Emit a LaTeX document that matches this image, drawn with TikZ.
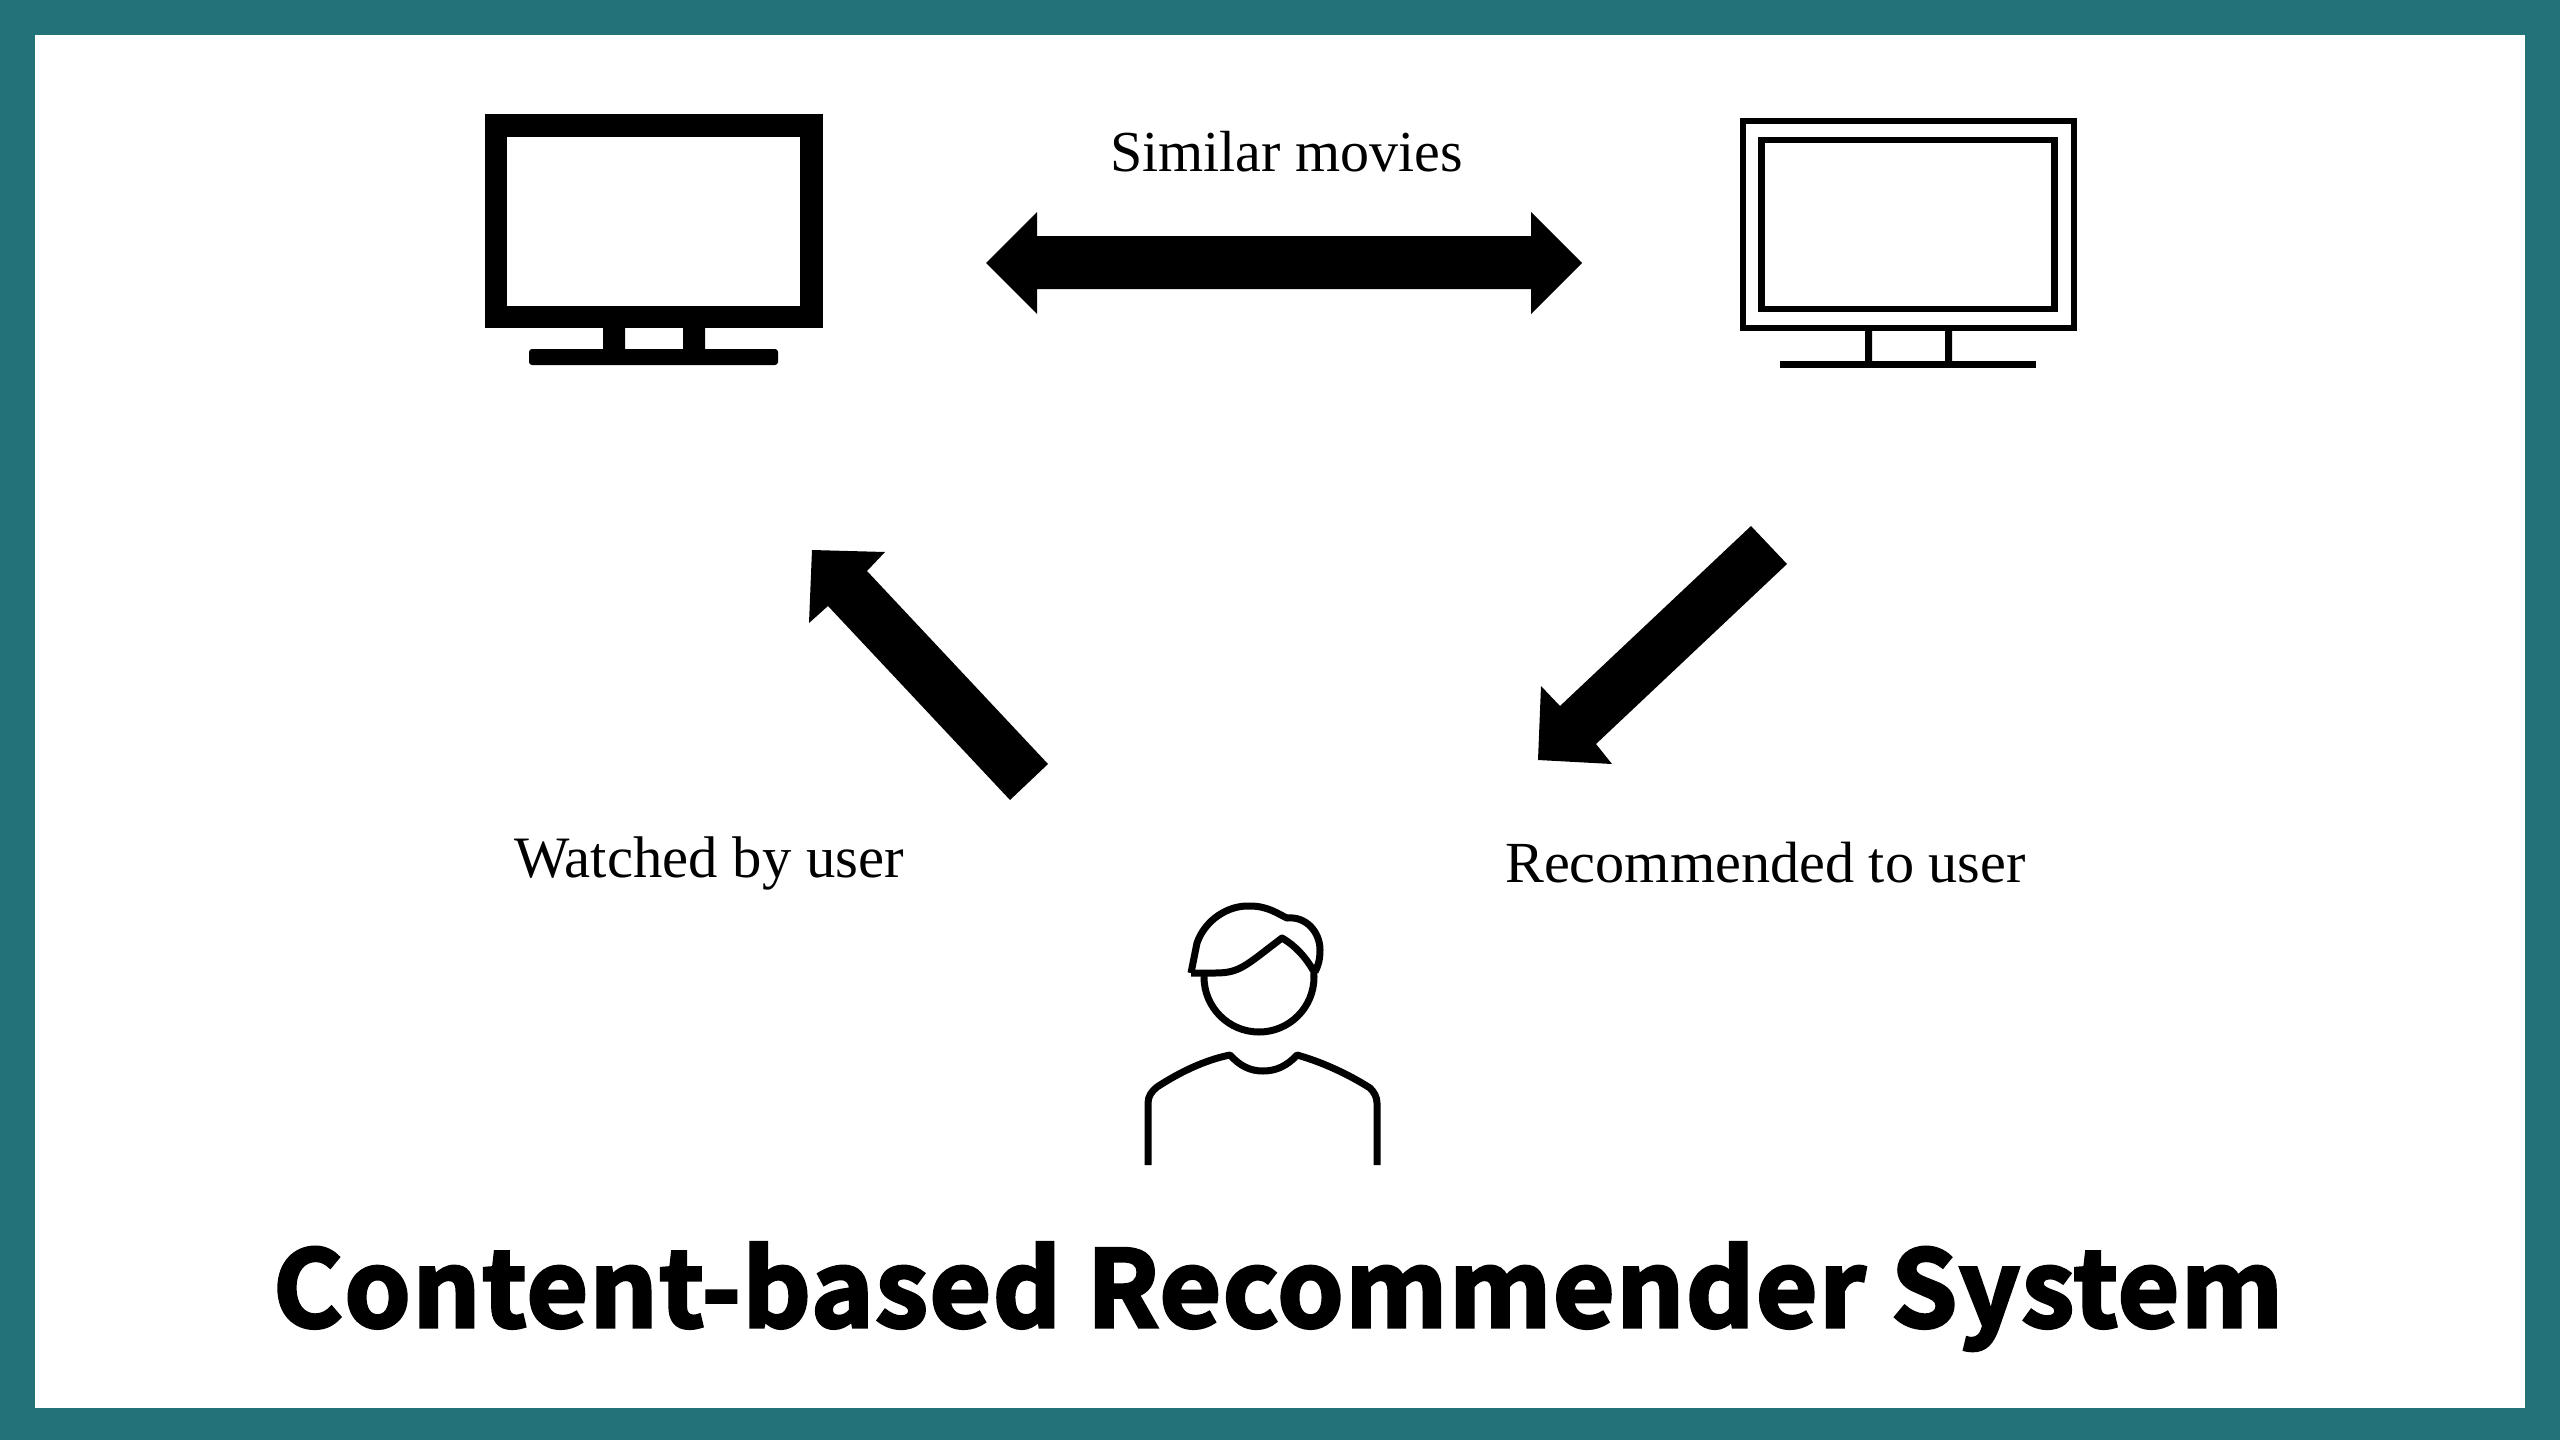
\documentclass[tikz,border=0pt]{standalone}
\usepackage{fontspec}
\setmainfont{Liberation Serif}
\newfontfamily\titlefont[FakeBold=3,LetterSpace=1.6]{Noto Sans CJK JP Bold}
\definecolor{frameteal}{HTML}{23727A}
\tikzset{
  lbl/.style={anchor=base west,inner sep=0pt,text=black},
  tvthick/.style={draw=black,line width=22.5pt,inner sep=0pt,fill=white},
  tvthin/.style={draw=black,line width=6.5pt,inner sep=0pt,fill=white},
  blockarrow/.style={fill=black,draw=none},
  linework/.style={draw=black,line width=7pt,line cap=butt,line join=round}
}
\begin{document}
\begin{tikzpicture}[x=1pt,y=-1pt]
\useasboundingbox (0,0) rectangle (2560,1440);
\fill[frameteal] (0,0) rectangle (2560,1440);
\fill[white] (35,35) rectangle (2525,1408);
% left monitor
\fill[black,rounded corners=3pt] (529,349) rectangle (778,365);
\fill[black] (603,328) rectangle (625,350) (683,328) rectangle (705,350);
\node[tvthick,minimum width=315.5pt,minimum height=191.5pt] (tvA) at (653.8,221) {};
% right monitor
\node[tvthin,minimum width=331pt,minimum height=207pt] (tvBouter) at (1908.5,224.5) {};
\node[tvthin,minimum width=293pt,minimum height=169pt] (tvBinner) at (1908,224.5) {};
\fill[black] (1780,361) rectangle (2036,368);
\fill[black] (1865,331) rectangle (1872,362) (1945,331) rectangle (1952,362);
% arrows
\coordinate (simL) at (986,263);
\coordinate (simR) at (1582,263);
\fill[blockarrow] (simL) -- ++(51,-51) -- ++(0,24) -- ++(494,0) -- ++(0,-24) -- (simR)
  -- ++(-51,51) -- ++(0,-25) -- ++(-494,0) -- ++(0,25) -- cycle;
\coordinate (watchFrom) at (1048,764);
\coordinate (watchTip) at (812,550);
\fill[blockarrow] (watchFrom) -- ++(-38,36) -- ++(-182,-194) -- ++(-19,17) -- (watchTip)
  -- ++(73,2) -- ++(-18,19) -- cycle;
\coordinate (recFrom) at (1751,526);
\coordinate (recTip) at (1538,760);
\fill[blockarrow] (recFrom) -- ++(36,38) -- ++(-191,180) -- ++(16,20) -- (recTip)
  -- ++(3,-74) -- ++(19,20) -- cycle;
% labels
\node[lbl,font=\fontsize{58}{60}\selectfont] (simText) at (1110,171) {Similar movies};
\node[lbl,font=\fontsize{58.7}{60}\selectfont] (watchText) at (514,877) {Watched by user};
\node[lbl,font=\fontsize{58.2}{60}\selectfont] (recText) at (1505,882) {Recommended to user};
% person
\draw[linework] (1259,977) circle[radius=55];
\fill[white] (1191,973) -- (1197,943) .. controls (1205,920) and (1228,905) .. (1250,906)
  .. controls (1268,906) and (1278,914) .. (1287,918)
  .. controls (1306,916) and (1320,932) .. (1320,950) .. controls (1320,960) and (1318,966) .. (1315,972)
  -- (1282,938) .. controls (1262,952) and (1248,966) .. (1233,970) -- cycle;
\draw[linework] (1191,973) -- (1197,943) .. controls (1205,920) and (1228,905) .. (1250,906)
  .. controls (1268,906) and (1278,914) .. (1287,918)
  .. controls (1306,916) and (1320,932) .. (1320,950) .. controls (1320,960) and (1318,966) .. (1315,972);
\draw[linework] (1191,973) -- (1215,973) .. controls (1240,973) and (1245,966) .. (1282,938)
  .. controls (1296,946) and (1306,958) .. (1313,970);
\draw[linework] (1148,1165) -- (1148,1103) .. controls (1148,1096) and (1152,1091) .. (1157,1087)
  .. controls (1180,1072) and (1205,1060) .. (1230,1055)
  .. controls (1240,1066) and (1250,1071) .. (1263,1071)
  .. controls (1276,1071) and (1287,1066) .. (1297,1055)
  .. controls (1322,1062) and (1348,1074) .. (1370,1088)
  .. controls (1374,1092) and (1377,1097) .. (1377,1103) -- (1377,1165);
% title
\node[lbl,font={\titlefont\fontsize{106}{120}\selectfont}] (title) at (273,1327) {Content-based Recommender System};
\end{tikzpicture}
\end{document}
